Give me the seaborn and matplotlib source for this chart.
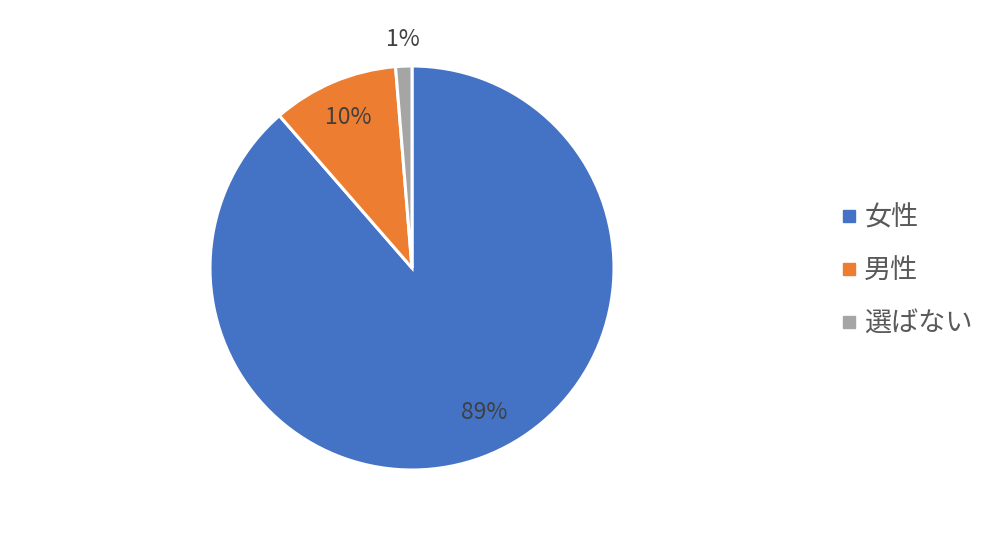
import numpy as np
import matplotlib.pyplot as plt
import seaborn as sns
from matplotlib.lines import Line2D

# data
labels = ['女性', '男性', '選ばない']
shares = [88.6, 10.1, 1.3]
pct_labels = ['89%', '10%', '1%']
colors = ['#4472C4', '#ED7D31', '#A5A5A5']
label_radius = [0.8, 0.81, 1.13]
label_turn = [6, 0, 0]  # degrees nudged off the wedge's mid angle

sns.set_theme(style='white')
plt.rcParams['font.family'] = ['Noto Sans CJK JP', 'DejaVu Sans']

fig = plt.figure(figsize=(10.02, 5.39), dpi=100)
cx, cy, r = 412, 268, 202
ax = fig.add_axes([(cx - r) / 1002, (539 - cy - r) / 539, 2 * r / 1002, 2 * r / 539])

wedges, _ = ax.pie(
    shares, colors=colors, startangle=90, counterclock=False,
    wedgeprops=dict(edgecolor='white', linewidth=2.2),
)
ax.set_xlim(-1, 1)
ax.set_ylim(-1, 1)
ax.set_aspect('equal')
ax.axis('off')

# percentage labels placed along each wedge's mid angle
for w, txt, rad, turn in zip(wedges, pct_labels, label_radius, label_turn):
    mid = np.deg2rad((w.theta1 + w.theta2) / 2 + turn)
    ax.text(rad * np.cos(mid), rad * np.sin(mid), txt,
            ha='center', va='center', fontsize=16.5, color='#404040')

handles = [Line2D([0], [0], marker='s', linestyle='', markersize=8.5,
                  markerfacecolor=c, markeredgecolor=c) for c in colors]
fig.legend(handles, labels, loc='center left',
           bbox_to_anchor=(829 / 1002, 1 - 271 / 539),
           frameon=False, fontsize=19.5, labelcolor='#595959', borderpad=0,
           handlelength=0.5, handletextpad=0.3, labelspacing=0.95)

fig.savefig('out.png', dpi=100)
